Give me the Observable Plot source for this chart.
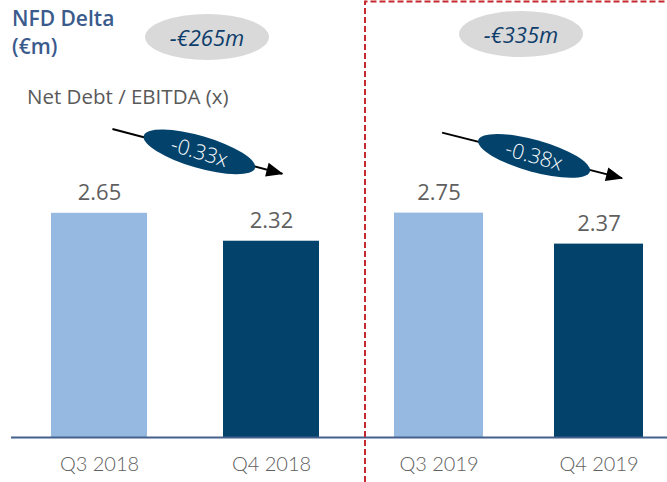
<!DOCTYPE html>
<html>
<head>
<meta charset="utf-8">
<script src="https://cdn.jsdelivr.net/npm/d3@7"></script>
<script src="https://cdn.jsdelivr.net/npm/@observablehq/plot@0.6"></script>
<style>
  html, body { margin: 0; padding: 0; background: #fff; }
  #wrap { position: relative; width: 667px; height: 482px; overflow: hidden; font-family: "Open Sans", sans-serif; }
  .panel { position: absolute; top: 0; }
  .title { position: absolute; left: 12px; top: 4px; font-size: 21px; font-weight: 600; color: #3a5b8c; line-height: 28px; }
  .subtitle { position: absolute; left: 27px; top: 82px; font-size: 20.5px; color: #595959; }
  .pill { position: absolute; width: 124px; height: 46px; border-radius: 50%; background: #d9d9d9;
          display: flex; align-items: center; justify-content: center;
          font-style: italic; font-size: 22px; color: #0e3d6b; }
  #overlay { position: absolute; left: 0; top: 0; pointer-events: none; }
</style>
</head>
<body>
<div id="wrap">
  <div class="title">NFD Delta<br>(€m)</div>
  <div class="subtitle">Net Debt / EBITDA (x)</div>
</div>
<script>
// ---- data ----
const periods = ["Q3 2018", "Q4 2018", "Q3 2019", "Q4 2019"];
const quarters = ["Q3", "Q4", "Q3", "Q4"];
const ratio = [2.65, 2.32, 2.75, 2.37];
const nfdDelta = ["-€265m", "-€335m"];
const ratioChange = ["-0.33x", "-0.38x"];
// arrow anchors (data units) for each panel
const arrowStartY = [3.64, 3.73];
const arrowEndY = [3.10, 3.16];

const light = "#95b9e0", dark = "#02426b", grey = "#595959";

const rows = periods.map((p, i) => ({period: p, quarter: quarters[i], value: ratio[i]}));
const wrap = document.getElementById("wrap");

const panels = [
  {rows: rows.slice(0, 2), left: 0, width: 365, marginLeft: 11, range: [15.4, 354.6], pin: 0.439, pout: 0.2, yTop: 437 - 3 * 84.6, start: 0.64, end: 0.66},
  {rows: rows.slice(2, 4), left: 365, width: 302, marginLeft: 0, range: [5, 302], pin: 0.444, pout: 0.15, yTop: 437 - 3 * 81.6, start: 0.54, end: 0.81}
];

panels.forEach((pn, k) => {
  const plot = Plot.plot({
    width: pn.width,
    height: 482,
    marginLeft: pn.marginLeft,
    marginRight: 0,
    marginTop: 0,
    marginBottom: 45,
    style: {fontFamily: "Lato", fontSize: "20px", fontWeight: 300, color: "#606060", background: "transparent", overflow: "visible"},
    x: {domain: pn.rows.map(d => d.period), range: pn.range, paddingInner: pn.pin, paddingOuter: pn.pout,
        label: null, tickSize: 0, tickPadding: 19},
    y: {domain: [0, 3], range: [437, pn.yTop], axis: null},
    color: {domain: ["Q3", "Q4"], range: [light, dark]},
    marks: [
      Plot.barY(pn.rows, {x: "period", y: "value", fill: "quarter"}),
      Plot.ruleY([0], {stroke: "#44618d", strokeWidth: 2}),
      Plot.text(pn.rows, {x: "period", y: "value", text: d => d.value.toFixed(2), lineAnchor: "bottom", dy: -13,
        fontSize: 22, fontWeight: 400, fill: "#5f5f5f", fontFamily: "Open Sans"})
    ]
  });
  plot.classList.add("panel");
  plot.style.left = pn.left + "px";
  wrap.appendChild(plot);

  // annotation arrow with ellipse label, positioned through the plot's scales
  const sx = plot.scale("x"), sy = plot.scale("y");
  const bw = sx.bandwidth;
  const x1 = sx.apply(pn.rows[0].period) + bw * pn.start;
  const x2 = sx.apply(pn.rows[1].period) + bw * pn.end;
  const y1 = sy.apply(arrowStartY[k]);
  const y2 = sy.apply(arrowEndY[k]);
  const svg = d3.select(plot);
  const id = "head" + k;
  svg.append("defs").append("marker")
    .attr("id", id).attr("markerUnits", "userSpaceOnUse")
    .attr("viewBox", "-18 -8 20 16").attr("markerWidth", 20).attr("markerHeight", 16)
    .attr("refX", 0).attr("refY", 0).attr("orient", "auto")
    .append("path").attr("d", "M1,0L-16,-7L-16,7Z").attr("fill", "#000");
  const g = svg.append("g");
  g.append("line").attr("x1", x1).attr("y1", y1).attr("x2", x2 - 4).attr("y2", y2 - 4 * (y2 - y1) / (x2 - x1))
    .attr("stroke", "#000").attr("stroke-width", 2).attr("marker-end", `url(#${id})`);
  const cx = (x1 + x2) / 2, cy = (y1 + y2) / 2;
  const ang = Math.atan2(y2 - y1, x2 - x1) * 180 / Math.PI;
  const lab = g.append("g").attr("transform", `translate(${cx},${cy}) rotate(${ang + 1.5})`);
  lab.append("ellipse").attr("rx", 58).attr("ry", 16).attr("fill", dark);
  lab.append("text").attr("text-anchor", "middle").attr("dy", "0.35em")
    .attr("fill", "#fff").attr("font-family", "Open Sans").attr("font-size", 21).text(ratioChange[k]);
});

// NFD delta pills
const pillPos = [{left: 145, top: 14}, {left: 459, top: 11}];
nfdDelta.forEach((t, i) => {
  const d = document.createElement("div");
  d.className = "pill";
  d.style.left = pillPos[i].left + "px";
  d.style.top = pillPos[i].top + "px";
  d.textContent = t;
  wrap.appendChild(d);
});

// red dashed separator
const ov = d3.select(wrap).append("svg").attr("id", "overlay").attr("width", 667).attr("height", 482);
ov.append("path").attr("d", "M365,482V1.5H667")
  .attr("fill", "none").attr("stroke", "#c5282f").attr("stroke-width", 2).attr("stroke-dasharray", "6,3");
</script>
</body>
</html>
